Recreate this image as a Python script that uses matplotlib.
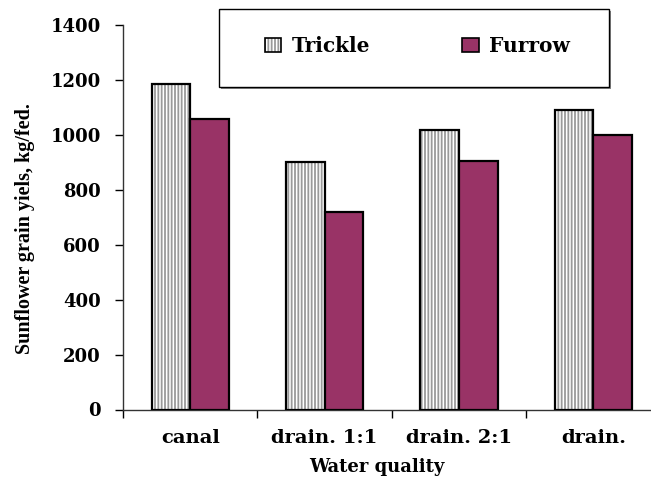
import matplotlib
matplotlib.use("Agg")
import matplotlib.pyplot as plt
from matplotlib.patches import Rectangle, Patch
from matplotlib.legend_handler import HandlerTuple
import numpy as np

categories = ["canal", "drain. 1:1", "drain. 2:1", "drain."]
trickle = [1185, 900, 1018, 1090]
furrow = [1057, 720, 905, 999]
yticks = [0, 200, 400, 600, 800, 1000, 1200, 1400]
series_names = ["Trickle", "Furrow"]

FONT = "DejaVu Serif"
plt.rcParams['font.family'] = [FONT]
plt.rcParams['font.weight'] = 'bold'
plt.rcParams['hatch.linewidth'] = 1.3

W, H = 651, 480
fig = plt.figure(figsize=(W / 100, H / 100), dpi=100)
left = 123 / W
bottom = 1 - 409.5 / H
ax = fig.add_axes([left, bottom, 537.6 / W, 384.5 / H])

x = np.arange(len(categories))
bw = 0.287
furrow_color = "#993366"

# Trickle: hatched fill then black outline
ax.bar(x - bw / 2, trickle, width=bw, facecolor="white", edgecolor="#9a9a9a",
       hatch="|||||", linewidth=0, zorder=2)
ax.bar(x - bw / 2, trickle, width=bw, fill=False, edgecolor="black",
       linewidth=1.6, zorder=3)
ax.bar(x + bw / 2, furrow, width=bw, facecolor=furrow_color, edgecolor="black",
       linewidth=1.6, zorder=3)

ax.set_xlim(-0.5, 3.5)
ax.set_ylim(0, 1400)
ax.set_yticks(yticks)
ax.set_yticklabels([str(v) for v in yticks], fontsize=13, fontweight='bold')
ax.set_xticks(x)
ax.set_xticklabels(categories, fontsize=14, fontweight='bold')
ax.set_xticks([-0.5, 0.5, 1.5, 2.5], minor=True)
ax.tick_params(axis='x', which='major', length=0, pad=14)
ax.tick_params(axis='x', which='minor', length=6, width=1, direction='out')
ax.tick_params(axis='y', which='major', length=6, width=1, direction='out', pad=10)
for s in ['top', 'right']:
    ax.spines[s].set_visible(False)
for s in ['left', 'bottom']:
    ax.spines[s].set_linewidth(1)
    ax.spines[s].set_color("#333333")
ax.spines['left'].set_bounds(0, 1400)

fig.text(377 / W, 1 - 467 / H, "Water quality", fontsize=13, fontweight='bold',
         ha='center', va='center')
fig.text(25 / W, 1 - 229 / H, "Sunflower grain yiels, kg/fed.", rotation=90,
         fontsize=14.5, fontweight='bold', ha='center', va='center',
         family="Liberation Serif")

# legend box
bx0, by0, bw_, bh_ = 219 / W, 1 - 87 / H, 390 / W, 78 / H
shadow = Rectangle((bx0 + 2 / W, by0 - 2 / H), bw_, bh_, transform=fig.transFigure,
                   facecolor="#888888", edgecolor="none", zorder=0)
box = Rectangle((bx0, by0), bw_, bh_, transform=fig.transFigure,
                facecolor="white", edgecolor="black", linewidth=1, zorder=1)
fig.patches.extend([shadow, box])

h1 = (Patch(facecolor="white", edgecolor="#9a9a9a", hatch="|||||", linewidth=0),
      Patch(fill=False, edgecolor="black", linewidth=1.2))
h2 = Patch(facecolor=furrow_color, edgecolor="black", linewidth=1.2)
leg = fig.legend([h1, h2], series_names, loc='center left',
                 bbox_to_anchor=(247 / W, 1 - 46 / H), ncol=2, frameon=False,
                 handler_map={tuple: HandlerTuple(ndivide=1, pad=0)},
                 handlelength=0.8, handleheight=0.7, handletextpad=0.5,
                 columnspacing=4.6, prop={'family': FONT, 'weight': 'bold', 'size': 14.5})
leg.set_zorder(5)

fig.savefig("out.png", dpi=100)
